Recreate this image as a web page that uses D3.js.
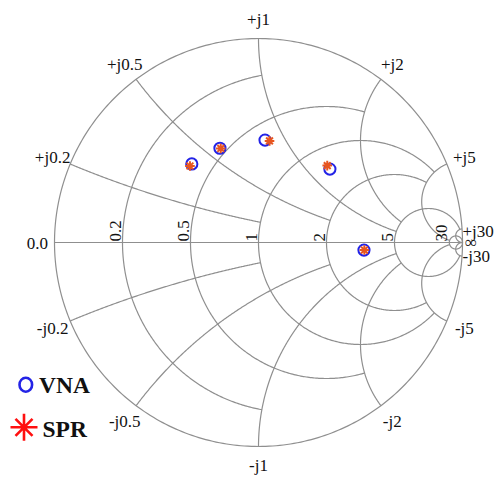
<!DOCTYPE html>
<html>
<head>
<meta charset="utf-8">
<script src="https://cdn.jsdelivr.net/npm/d3@7"></script>
<style>
  html, body { margin: 0; padding: 0; background: #fff; }
  svg { display: block; }
  text { font-family: "Liberation Serif", "Times New Roman", serif; fill: #111; }
</style>
</head>
<body>
<svg id="chart" width="494" height="477"></svg>
<script>
// ---- data (reflection coefficient) ----
const vnaRe = [-0.327, -0.189, 0.032, 0.350, 0.517];
const vnaIm = [ 0.385,  0.462, 0.502, 0.360, -0.037];
const sprRe = [-0.336, -0.185, 0.054, 0.337, 0.519];
const sprIm = [ 0.375,  0.461, 0.498, 0.377, -0.037];

// grid: resistance circles and the reactance up to which they are drawn
const rValues = [0.2, 0.5, 1, 2, 5, 30];
const rLimits = [1, 2, 5, 5, 30, Infinity];
const rLabels = ["0.2", "0.5", "1", "2", "5", "30"];
// reactance arcs and the resistance up to which they are drawn
const xValues = [0.2, 0.5, 1, 2, 5, 30];
const xLimits = [1, 2, 5, 5, 30, Infinity];
const xLabelsPos = ["+j0.2", "+j0.5", "+j1", "+j2", "+j5", "+j30"];
const xLabelsNeg = ["-j0.2", "-j0.5", "-j1", "-j2", "-j5", "-j30"];
const legendLabels = ["VNA", "SPR"];

// ---- layout ----
const cx = 258.5, cy = 242.5, R = 204;
const gx = d3.scaleLinear().domain([-1, 1]).range([cx - R, cx + R]);
const gy = d3.scaleLinear().domain([-1, 1]).range([cy + R, cy - R]);
const svg = d3.select("#chart");
const gridColor = "#8f8f8f";
const line = d3.line().x(d => gx(d[0])).y(d => gy(d[1]));

function gamma(r, x) {
  if (!isFinite(r) || !isFinite(x)) return [1, 0];
  const a = r - 1, b = x, c = r + 1, d = x;
  const den = c * c + d * d;
  return [(a * c + b * d) / den, (b * c - a * d) / den];
}

function resistanceArc(r, xmax) {
  const c0 = r / (1 + r), rho = 1 / (1 + r);
  const p = gamma(r, xmax);
  const te = Math.atan2(p[1], p[0] - c0);
  const n = 360, pts = [];
  for (let i = 0; i <= n; i++) {
    const t = te + (2 * Math.PI - 2 * te) * i / n;
    pts.push([c0 + rho * Math.cos(t), rho * Math.sin(t)]);
  }
  return pts;
}

function norm(a) { return a < 0 ? a + 2 * Math.PI : a; }

function reactanceArc(x, rmax) {
  const ax = Math.abs(x), s = Math.sign(x);
  const ccy = 1 / ax, rho = 1 / ax;
  const p0 = gamma(0, ax), p1 = gamma(rmax, ax);
  const f0 = norm(Math.atan2(p0[1] - ccy, p0[0] - 1));
  const f1 = norm(Math.atan2(p1[1] - ccy, p1[0] - 1));
  const n = 240, pts = [];
  for (let i = 0; i <= n; i++) {
    const f = f0 + (f1 - f0) * i / n;
    pts.push([1 + rho * Math.cos(f), s * (ccy + rho * Math.sin(f))]);
  }
  return pts;
}

const grid = svg.append("g").attr("fill", "none").attr("stroke", gridColor).attr("stroke-width", 1.2);

// outer circle
grid.append("path").attr("d", line(resistanceArc(0, Infinity)));
// real axis
grid.append("line").attr("x1", gx(-1)).attr("x2", gx(1)).attr("y1", gy(0)).attr("y2", gy(0));
// resistance circles
rValues.forEach((r, i) => grid.append("path").attr("d", line(resistanceArc(r, rLimits[i]))));
// reactance arcs
xValues.forEach((x, i) => {
  grid.append("path").attr("d", line(reactanceArc(x, xLimits[i])));
  grid.append("path").attr("d", line(reactanceArc(-x, xLimits[i])));
});

// ---- labels ----
const fs = 17;
svg.append("text").attr("x", gx(-1) - 6.5).attr("y", gy(0) + 6)
  .attr("text-anchor", "end").attr("font-size", fs).text("0.0");

rValues.forEach((r, i) => {
  const xl = gx((r - 1) / (r + 1)) - 2, yl = gy(0) - 1;
  svg.append("text").attr("transform", `translate(${xl},${yl}) rotate(-90)`)
    .attr("font-size", fs).attr("text-anchor", "start").text(rLabels[i]);
});

xValues.forEach((x, i) => {
  [1, -1].forEach(sg => {
    const lab = sg > 0 ? xLabelsPos[i] : xLabelsNeg[i];
    if (x >= 30) {
      svg.append("text").attr("x", gx(1)).attr("y", gy(0) + (sg > 0 ? -5.5 : 19.5))
        .attr("font-size", fs).attr("text-anchor", "start").text(lab);
      return;
    }
    const p = gamma(0, sg * x);
    const ang = Math.atan2(p[1], p[0]);
    const rr = 1 + 19 / R;
    svg.append("text").attr("x", gx(rr * Math.cos(ang))).attr("y", gy(rr * Math.sin(ang)))
      .attr("dy", "0.35em").attr("font-size", fs).attr("text-anchor", "middle").text(lab);
  });
});
svg.append("text").attr("x", gx(1) + 8.5).attr("y", gy(0)).attr("dy", "0.35em")
  .attr("font-size", fs).attr("text-anchor", "middle").text("∞");

// ---- markers ----
const blue = "#2323e6", orange = "#e8561f", red = "#ff1010";
function starPath(h, hd) {
  return `M${-h},0L${h},0M0,${-h}L0,${h}M${-hd},${-hd}L${hd},${hd}M${-hd},${hd}L${hd},${-hd}`;
}
svg.append("g").selectAll("circle").data(vnaRe).join("circle")
  .attr("cx", (d, i) => gx(d)).attr("cy", (d, i) => gy(vnaIm[i])).attr("r", 5.6)
  .attr("fill", "none").attr("stroke", blue).attr("stroke-width", 2);
svg.append("g").selectAll("path").data(sprRe).join("path")
  .attr("transform", (d, i) => `translate(${gx(d)},${gy(sprIm[i])})`)
  .attr("d", starPath(4.8, 3.4)).attr("fill", "none")
  .attr("stroke", orange).attr("stroke-width", 2);

// ---- legend ----
svg.append("ellipse").attr("cx", 25.8).attr("cy", 384.7).attr("rx", 6.3).attr("ry", 7)
  .attr("fill", "none").attr("stroke", blue).attr("stroke-width", 2.6);
svg.append("text").attr("x", 39).attr("y", 392.7).attr("font-size", 23.5)
  .attr("font-weight", "bold").text(legendLabels[0]);
svg.append("path").attr("transform", "translate(24,427.3)")
  .attr("d", starPath(13.5, 8.5)).attr("fill", "none").attr("stroke", red).attr("stroke-width", 2.6);
svg.append("text").attr("x", 42.5).attr("y", 436.7).attr("font-size", 23.5)
  .attr("font-weight", "bold").text(legendLabels[1]);
</script>
</body>
</html>
